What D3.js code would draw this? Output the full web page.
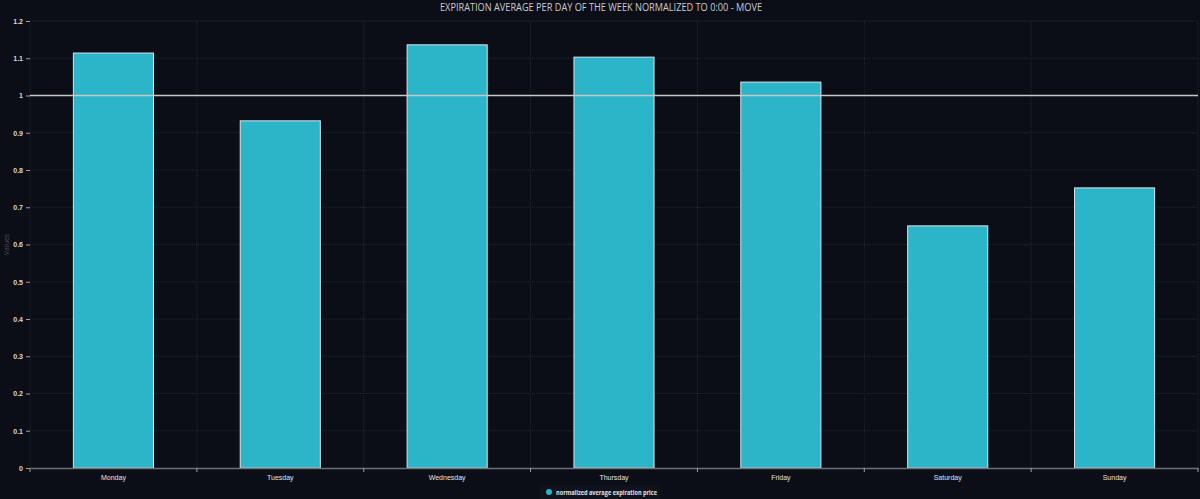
<!DOCTYPE html>
<html>
<head>
<meta charset="utf-8">
<script src="https://cdn.jsdelivr.net/npm/d3@7"></script>
<style>
    body { margin: 0; background: #0b0e17; }
    svg { display: block; font-family: "Open Sans", "DejaVu Sans", sans-serif; }
</style>
</head>
<body>
<svg id="chart" width="1200" height="499"></svg>
<script>
var days = ["Monday", "Tuesday", "Wednesday", "Thursday", "Friday", "Saturday", "Sunday"];
var values = [1.114, 0.932, 1.136, 1.103, 1.036, 0.650, 0.752];
var yTicks = [0, 0.1, 0.2, 0.3, 0.4, 0.5, 0.6, 0.7, 0.8, 0.9, 1, 1.1, 1.2];
var refValue = 1;
var seriesName = "normalized average expiration price";

var svg = d3.select("#chart"),
    margin = {top: 21, right: 2, bottom: 31, left: 30},
    width = +svg.attr("width") - margin.left - margin.right,
    height = +svg.attr("height") - margin.top - margin.bottom,
    g = svg.append("g").attr("transform", "translate(" + margin.left + "," + margin.top + ")");

svg.insert("rect", ":first-child")
    .attr("width", 1200).attr("height", 499).attr("fill", "#0b0e17");

var x = d3.scaleBand().domain(days).range([0, width]).paddingInner(0.52).paddingOuter(0.26);
var xb = d3.scaleLinear().domain([0, days.length]).range([0, width]);
var y = d3.scaleLinear().domain([0, 1.2]).range([height, 0]);

// grid
g.append("g")
    .selectAll("line.h")
    .data(yTicks.slice(1))
    .enter().append("line")
    .attr("x1", 0).attr("x2", width)
    .attr("y1", function (d) { return y(d); })
    .attr("y2", function (d) { return y(d); })
    .attr("stroke", "#232833").attr("stroke-dasharray", "1,1");

g.append("g")
    .selectAll("line.v")
    .data(d3.range(0, days.length + 1))
    .enter().append("line")
    .attr("x1", function (d) { return xb(d); })
    .attr("x2", function (d) { return xb(d); })
    .attr("y1", 0).attr("y2", height)
    .attr("stroke", "#232833").attr("stroke-dasharray", "1,1");

// bars
g.selectAll("rect.bar")
    .data(values)
    .enter().append("rect")
    .attr("x", function (d, i) { return x(days[i]); })
    .attr("y", function (d) { return y(d); })
    .attr("width", x.bandwidth())
    .attr("height", function (d) { return height - y(d); })
    .attr("fill", "#2cb5c9")
    .attr("stroke", "#d8e6ea")
    .attr("stroke-width", 1);

// reference line
g.append("line")
    .attr("x1", 0).attr("x2", width)
    .attr("y1", y(refValue)).attr("y2", y(refValue))
    .attr("stroke", "#c8c8c8").attr("stroke-width", 1.5);

// y axis
var yAxis = g.append("g")
    .call(d3.axisLeft(y).tickValues(yTicks).tickSize(4).tickFormat(function (d) { return d3.format("~g")(d); }));
yAxis.select(".domain").remove();
yAxis.selectAll(".tick line").attr("stroke", "#9aa0a8");
yAxis.selectAll(".tick text").attr("fill", "#d6d9de").attr("font-size", 7).attr("font-weight", "bold");

// x axis
var xAxis = g.append("g")
    .attr("transform", "translate(0," + height + ")")
    .call(d3.axisBottom(x).tickSize(0).tickPadding(7));
xAxis.select(".domain").attr("stroke", "#6a6f78").attr("stroke-width", 1.5);
xAxis.selectAll(".tick text").attr("fill", "#e0e3e7").attr("font-size", 7);

g.append("g")
    .attr("transform", "translate(0," + height + ")")
    .selectAll("line")
    .data(d3.range(0, days.length + 1))
    .enter().append("line")
    .attr("x1", function (d) { return xb(d); })
    .attr("x2", function (d) { return xb(d); })
    .attr("y1", 0).attr("y2", 4)
    .attr("stroke", "#9aa0a8");

// axis title
svg.append("text")
    .attr("transform", "translate(9," + (margin.top + height / 2) + ") rotate(-90)")
    .attr("text-anchor", "middle")
    .attr("fill", "#4a505a")
    .attr("font-size", 7)
    .text("Values");

// title
svg.append("text")
    .attr("x", 601).attr("y", 11)
    .attr("text-anchor", "middle")
    .attr("fill", "#c8ccd2")
    .attr("font-size", 10)
    .attr("textLength", 322)
    .attr("lengthAdjust", "spacingAndGlyphs")
    .text("EXPIRATION AVERAGE PER DAY OF THE WEEK NORMALIZED TO 0:00 - MOVE");

// legend
var lg = svg.append("g").attr("transform", "translate(542,492)");
lg.append("rect").attr("x", -2).attr("y", -7).attr("width", 120).attr("height", 14).attr("fill", "#0f131d");
lg.append("circle").attr("cx", 7).attr("cy", 0).attr("r", 3).attr("fill", "#2cb5c9");
lg.append("text").attr("x", 14).attr("y", 2.5).attr("fill", "#e0e3e7").attr("font-size", 6.5)
    .attr("font-weight", "bold").attr("textLength", 101).attr("lengthAdjust", "spacingAndGlyphs")
    .text(seriesName);
</script>
</body>
</html>
